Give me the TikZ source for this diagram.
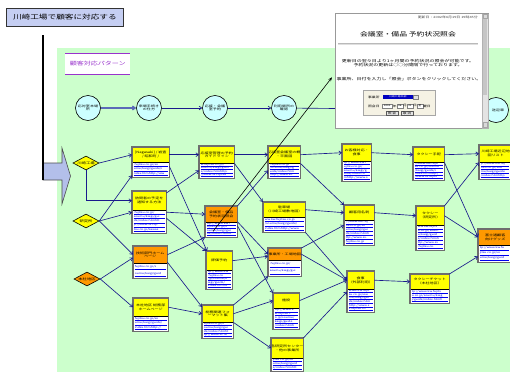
\documentclass[tikz,border=0pt]{standalone}
\usepackage{fontspec}
\usepackage{xstring}
\setmainfont{Noto Sans CJK JP}[FakeStretch=1.35]
\usetikzlibrary{shapes.geometric,arrows.meta,calc}
\definecolor{bggreen}{HTML}{CCFFCC}
\definecolor{pyel}{HTML}{FFFF00}
\definecolor{porg}{HTML}{FF9900}
\definecolor{cyanc}{HTML}{CCFFFF}
\definecolor{navyc}{HTML}{1A1A8C}
\definecolor{steelc}{HTML}{5A6AB8}
\definecolor{ttlbg}{HTML}{C5CEF2}
\definecolor{purp}{HTML}{9933CC}
\definecolor{arrbg}{HTML}{B3BFEA}
\definecolor{frm}{HTML}{6E6E6E}
\definecolor{formbg}{HTML}{F5F2E4}
\definecolor{linkc}{HTML}{0000EE}
\newcommand\urlbase{http://www.kw.fujitsu.co.jp/soumu/kaigi/guide/index.htmhttp://www.ss.fujitsu.co.jp/kawasaki/map/kojo/annai.htmlhttp://www.kw.fujitsu.co.jp/soumu/taxi/tehai/index.htmhttp://www.ss.fujitsu.co.jp/}
\tikzset{
  conn/.style={draw=navyc, line width=0.65pt, -{Straight Barb[length=2.6pt,width=3.8pt]}},
  circ/.style={circle, draw=black, line width=0.6pt, fill=cyanc, minimum size=25pt, inner sep=0, font=\fontsize{3}{3.6}\selectfont, align=center},
  dia/.style={diamond, draw=black, line width=0.6pt, aspect=1.9, minimum width=26pt, minimum height=14pt, inner sep=0, font=\fontsize{3.2}{3.6}\selectfont},
  pframe/.style={fill=white, inner sep=0, anchor=north west},
  pborder/.style={draw=frm, line width=1.1pt},
  phead/.style={draw=black, line width=0.4pt, inner sep=0, anchor=north west},
  ptitle/.style={font=\fontsize{3}{3.7}\selectfont, align=center, inner sep=0},
  plink/.style={font=\fontsize{2.5}{2.5}\selectfont, text=linkc, anchor=west, inner sep=0},
  wtext/.style={font=\fontsize{3.7}{4}\selectfont, inner sep=0},
  ftext/.style={font=\fontsize{2.8}{3}\selectfont, inner sep=0, anchor=west},
  field/.style={draw=gray, fill=white, line width=0.3pt, inner sep=0, minimum height=4pt, anchor=west},
  btn/.style={draw=gray!70!black, fill=gray!20, line width=0.3pt, inner sep=0, minimum height=4.5pt, minimum width=12pt, font=\fontsize{2.8}{3}\selectfont},
}
% name, x1, y1, x2, yh, y2, fill, title, nlines
\newcommand\pbox[9]{%
  \node[pframe, minimum width={(#4-#2)*1pt}, minimum height={(#6-#3)*1pt}] (#1) at (#2,#3) {};
  \pgfmathsetmacro\lsp{(#6-#5-1.5)/#9}
  \pgfmathtruncatemacro\nch{(min(#4,510)-#2-3.5)/1.95}
  \pgfmathtruncatemacro\off{mod(#2,17)}
  \foreach \i in {1,...,#9}{
    \pgfmathtruncatemacro\sta{(\i-1)*\nch+1+\off}
    \pgfmathtruncatemacro\stb{\sta+\nch-1}
    \node[plink] at (#2+1.6, {#5+(\i-0.45)*\lsp}) {\StrMid{\urlbase}{\sta}{\stb}};
    \draw[linkc, line width=0.35pt] (#2+1.6,{#5+\i*\lsp-0.2}) -- ({min(#4,510)-1.2},{#5+\i*\lsp-0.2});
  }
  \node[phead, fill=#7, minimum width={(#4-#2)*1pt}, minimum height={(#5-#3)*1pt}] (#1h) at (#2,#3) {};
  \node[ptitle] (#1t) at (#1h.center) {#8};
  \draw[pborder] (#1.north west) rectangle (#1.south east);
}
\begin{document}
\begin{tikzpicture}[x=1pt,y=-1pt]
\useasboundingbox (0,0) rectangle (510,372);
\fill[white] (0,0) rectangle (510,372);
% green area
\fill[bggreen] (57,48) rectangle (510,372);
% label
\node[fill=white, minimum width=65pt, minimum height=21pt, anchor=north west, inner sep=0] (lbl) at (65,53) {};
\draw[purp, line width=0.9pt] (lbl.north west) -- (lbl.north east);
\draw[purp, line width=0.9pt] (lbl.south west) -- (lbl.south east);
\node[text=purp, font=\fontsize{5.2}{6}\selectfont, inner sep=0] (lblt) at (lbl.center) {顧客対応パターン};
% title
\node[draw=black!80, line width=0.8pt, fill=ttlbg, minimum width=117pt, minimum height=18pt, anchor=north west, inner sep=0, font=\fontsize{6.4}{7}\selectfont] (title) at (6,8) {川崎工場で顧客に対応する};
% big arrow
\filldraw[fill=arrbg, draw=black!70, line width=0.6pt] (43,163) -- (62,163) -- (62,148) -- (70.5,176) -- (62,204) -- (62,180) -- (43,180) -- cycle;
\draw[black, line width=2.6pt] (43,35) -- (43,180);
% circles
\node[circ] (c1) at (88,108) {応対室本場\\所};
\node[circ] (c2) at (149,108) {来場手続き\\の仕方};
\node[circ] (c3) at (215,108) {応接・会議\\室予約};
\node[circ] (c4) at (284,108) {利用場所の\\確認};
\node[circ] (c5) at (496,110) {\hspace*{4pt}送迎車};
\draw[conn, draw=steelc, line width=1.4pt] (c1) -- (c2);
\draw[conn] (c2) -- (c3);
\draw[conn] (c3) -- (c4);
\draw[conn] (c4) -- (c5);
% diamonds
\node[dia, fill=pyel] (d1) at (86,163) {川崎工場};
\node[dia, fill=pyel] (d2) at (86,221) {研究所};
\node[dia, fill=porg] (d3) at (87,279) {本社地区};
% boxes
\pbox{A}{132}{147}{169}{162}{177}{pyel}{[Nagasaki] / 岩査\\/ 昭和町 /}{3}
\pbox{B}{132}{191}{166}{210}{233}{pyel}{訪問者の予定を\\通知する方法}{5}
\pbox{C}{133}{246}{167}{263}{278}{porg}{技術部門ホーム\\ページ}{2}
\pbox{D}{133}{298}{168}{316}{331}{pyel}{本社地区 総務部\\ホームページ}{3}
\pbox{E}{199}{146}{234}{163}{178}{pyel}{応接室管理の予約\\ガイドライン}{4}
\pbox{F}{268}{146}{300}{163}{178}{pyel}{応接室会議室の概\\・平面図}{4}
\pbox{G}{205}{206}{237}{222}{237}{porg}{会議室・備品\\予約状況照会}{4}
\pbox{H}{263}{202}{305}{217}{232}{pyel}{駐車場\\（川崎工場敷地図）}{3}
\pbox{I}{268}{248}{301}{260}{276}{porg}{事業所・工場地図}{2}
\pbox{J}{206}{251}{232}{270}{289}{pyel}{評価予約}{5}
\pbox{K}{202}{305}{233}{322}{338}{pyel}{総務関連フォ\\ーマット集}{4}
\pbox{L}{273}{293}{299}{308}{329}{pyel}{施設}{5}
\pbox{M}{271}{338}{303}{358}{371}{pyel}{各研究所センター\\・他の事業所}{3}
\pbox{N}{342}{144}{371}{161}{181}{pyel}{お客様対応・\\食事}{5}
\pbox{O}{413}{147}{444}{162}{180}{pyel}{タクシー手配}{5}
\pbox{P}{479}{145}{512}{162}{179}{pyel}{川崎工場近辺地\\図リスト}{4}
\pbox{Q}{344}{205}{374}{220}{245}{pyel}{顧客用名刺}{6}
\pbox{R}{416}{206}{444}{225}{250}{pyel}{タクシー\\（研究所）}{6}
\pbox{S}{478}{229}{512}{245}{262}{porg}{富士通顧客\\向けグッズ}{3}
\pbox{T}{347}{271}{374}{289}{312}{pyel}{食事\\（外部利用）}{6}
\pbox{U}{410}{274}{449}{289}{303}{pyel}{タクシーチケット\\（本社地区）}{3}
% connectors
\draw[conn] (d1.east) -- (Ah.west);
\draw[conn] (d1.south) |- (Bh.west);
\draw[conn] (d2.east) -- ([yshift=2pt]A.south west);
\draw[conn] (d2.east) -- (B.west);
\draw[conn] (d2.east) -- (Ch.west);
\draw[conn] (d3.east) -- ([yshift=-3pt]Ch.west);
\draw[conn] (d3.east) -- (Dh.west);
\draw[conn] (Ah.east) -- (Eh.west);
\draw[conn] ([yshift=-2pt]B.north east) -- ([yshift=8pt]E.south west);
\draw[conn] (B.east) -- (Gh.west);
\draw[conn] ([yshift=-6pt]B.east) -- (J.north west);
\draw[conn] ([yshift=-4pt]Ah.south east) -- ([xshift=1pt]J.north west);
\draw[conn] (Ch.east) -- (G.south west);
\draw[conn] (C.east) -- ([yshift=-2pt]Kh.north west);
\draw[conn] (Dh.east) -- (Kh.west);
\draw[conn] (Eh.east) -- (Fh.west);
\draw[conn] (Eh.south east) -- (Hh.north west);
\draw[conn] (Gh.north east) -- ([yshift=8pt]F.south west);
\draw[conn] (G.east) -- (Ih.west);
\draw[conn] ([yshift=-4pt]G.east) -- (Lh.north west);
\draw[conn] (Jh.east) -- ([yshift=-2pt]Ih.west);
\draw[conn] (Kh.north east) -- (I.south west);
\draw[conn] (Kh.east) -- (Lh.west);
\draw[conn] (Kh.south east) -- (Mh.west);
\draw[conn] (Fh.east) -- (Nh.west);
\draw[conn] (Fh.south east) -- (Qh.north west);
\draw[conn] (Hh.east) -- (Qh.west);
\draw[conn] (Ih.north east) -- (Q.west);
\draw[conn] (Ih.east) -- (Th.west);
\draw[conn] (H.south east) -- (Th.west);
\draw[conn] (Lh.east) -- (Th.west);
\draw[conn] (Mh.north east) -- (T.west);
\draw[conn] (Nh.east) -- (Oh.west);
\draw[conn] (Oh.east) -- (Ph.west);
\draw[conn] (Oh.south east) -- (Sh.west);
\draw[conn] (Qh.east) -- (Rh.west);
\draw[conn] (Rh.north east) -- (Ph.south west);
\draw[conn] (Rh.east) -- (Sh.west);
\draw[conn] (Th.east) -- (Uh.west);
\draw[conn] (U.north east) -- ([yshift=6pt]S.south west);
% window
\node[draw=gray!80, line width=0.6pt, fill=white, minimum width=153pt, minimum height=115pt, anchor=north west, inner sep=0] (win) at (335,13) {};
% black arrow to window
\draw[black, line width=0.6pt, -{Stealth[length=4pt,width=3.2pt]}] ([xshift=8pt,yshift=6pt]G.south west) -- ([xshift=-3pt,yshift=-6.5pt]win.west);
% scrollbar
\node[fill=gray!22, draw=gray!60, line width=0.3pt, minimum width=5.5pt, minimum height=114pt, anchor=north west, inner sep=0] (sb) at (482,13.5) {};
\node[fill=gray!45, minimum width=4.5pt, minimum height=76pt, anchor=north west, inner sep=0] (sbt) at (482.5,19) {};
\node[fill=gray!30, draw=gray!70, line width=0.3pt, minimum size=4.5pt, anchor=north west, inner sep=0] (sbu) at (482.5,13.8) {};
\node[fill=gray!30, draw=gray!70, line width=0.3pt, minimum size=4.5pt, anchor=south west, inner sep=0] (sbd) at (482.5,127.2) {};
% window texts
\node[wtext, font=\fontsize{2.9}{3}\selectfont, text=black!75, anchor=east] (wdate) at (478,17) {更新日：2002年6月19日\ 19時45分};
\node[wtext, font=\fontsize{5.8}{6}\selectfont] (wtitle) at (408,34) {会議室・備品\ 予約状況照会};
\draw[gray!55, line width=0.9pt] (338,43) -- (478,43);
\draw[gray!25, line width=0.6pt] (338,44.4) -- (478,44.4);
\node[wtext] (wl1) at (408,61) {更新日の翌々日より1ヶ月間の予約状況の照会が可能です。};
\node[wtext] (wl2) at (408,65.5) {予約状況の更新は○○分間隔で行っております。};
\node[wtext] (wl3) at (409,79) {事業所、日付を入力し「照会」ボタンをクリックしてください。};
% form
\node[draw=gray!70, line width=0.4pt, fill=formbg, minimum width=72pt, minimum height=25pt, anchor=north west, inner sep=0] (form) at (363,90) {};
\node[ftext] (fl1) at (368,97) {事業所};
\node[fill=blue!75!black, minimum width=30pt, minimum height=3.8pt, anchor=west, inner sep=0, text=white, font=\fontsize{2.2}{2.4}\selectfont] (sel) at (382.5,97) {川崎工場本部};
\node[draw=gray, fill=gray!25, line width=0.3pt, minimum width=5pt, minimum height=3.8pt, anchor=west, inner sep=0] (selb) at (412.5,97) {};
\node[ftext] (fl2) at (368,106) {照会日};
\node[field, minimum width=10pt, font=\fontsize{2.2}{2.4}\selectfont] (fy) at (382,106) {2002};
\node[ftext] (fyl) at (392.6,106) {年};
\node[field, minimum width=5.5pt, font=\fontsize{2.2}{2.4}\selectfont] (fm) at (397,106) {06};
\node[ftext] (fml) at (402.8,106) {月};
\node[field, minimum width=5.5pt, font=\fontsize{2.2}{2.4}\selectfont] (fd) at (407,106) {21};
\node[ftext] (fdl) at (412.8,106) {日};
\node[field, minimum width=5.5pt, font=\fontsize{2.2}{2.4}\selectfont] (fw) at (417,106) {金};
\node[ftext] (fwl) at (422.8,106) {曜日};
\node[btn] (b1) at (392,113) {照\ 会};
\node[btn] (b2) at (407,113) {取\ 消};
\end{tikzpicture}
\end{document}
